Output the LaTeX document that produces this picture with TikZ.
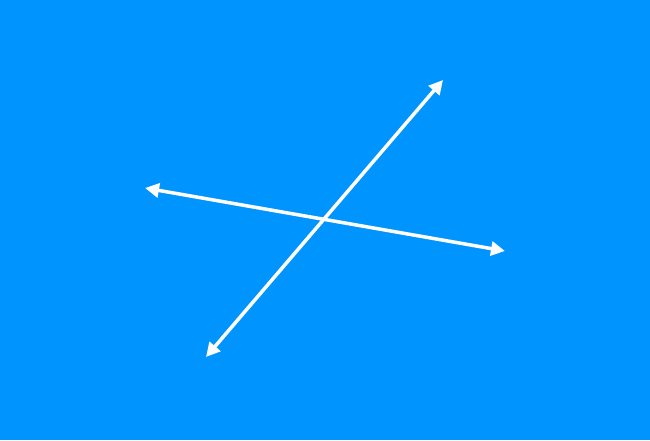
\documentclass[tikz,border=0pt]{standalone}
\usetikzlibrary{arrows.meta}
\definecolor{bg}{HTML}{0094FF}
\tikzset{dblarrow/.style={draw=white, line width=3.5pt, {Triangle[length=14pt,width=14pt]}-{Triangle[length=14pt,width=14pt]}}}
\begin{document}
\begin{tikzpicture}[x=1pt,y=-1pt]
\fill[bg] (0,0) rectangle (650,440);
\useasboundingbox (0,0) rectangle (650,440);
\coordinate (a) at (145,188);
\coordinate (b) at (505,251);
\coordinate (c) at (443,80);
\coordinate (d) at (206,357);
\draw[dblarrow] (a) -- (b);
\draw[dblarrow] (c) -- (d);
\end{tikzpicture}
\end{document}
